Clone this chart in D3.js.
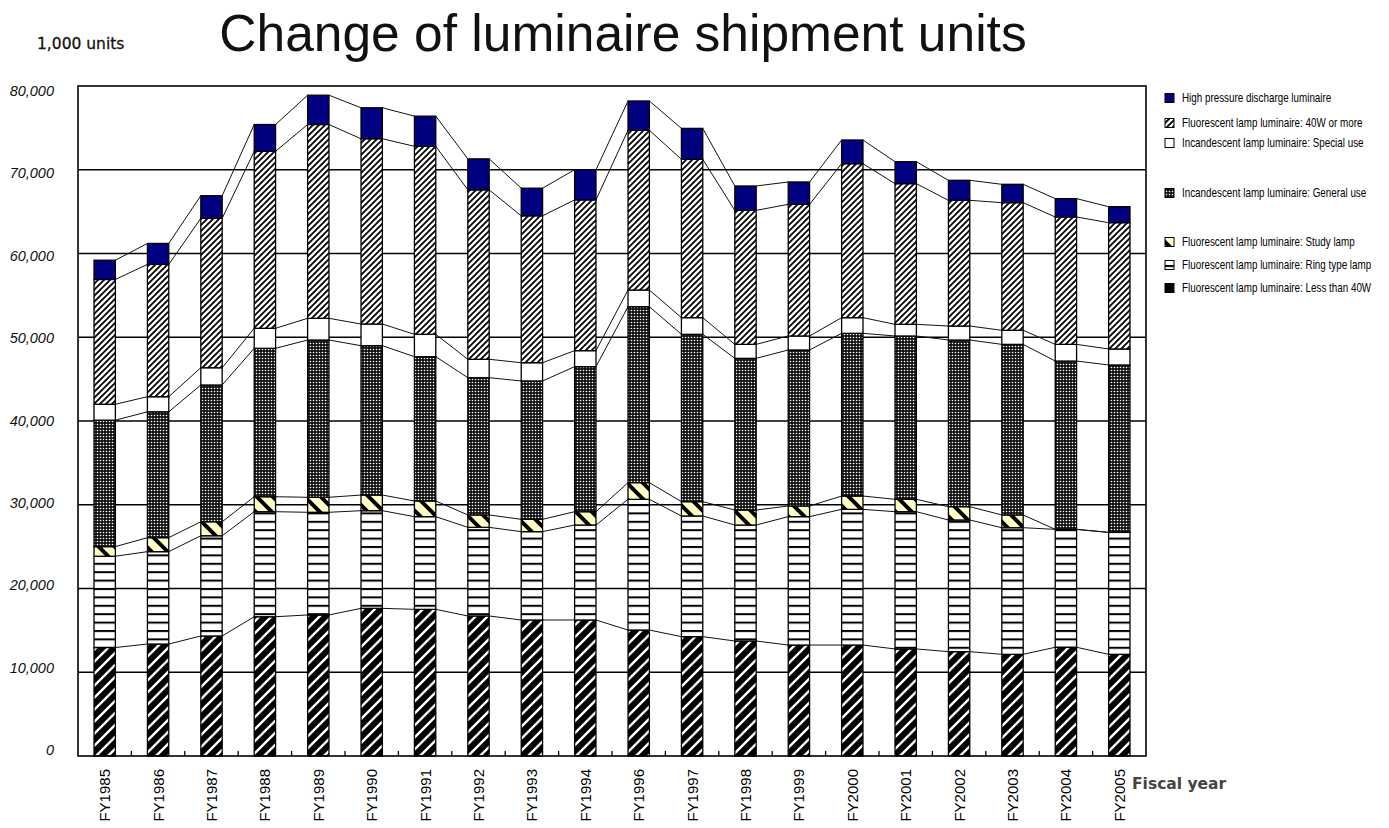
<!DOCTYPE html>
<html><head><meta charset="utf-8">
<script src="https://cdn.jsdelivr.net/npm/d3@7"></script>
<style>body{margin:0;background:#fff}svg{display:block}</style>
</head><body>
<svg id="chart" width="1389" height="828"></svg>
<script>
// ---------- data (1,000 units) ----------
const categories = ["FY1985","FY1986","FY1987","FY1988","FY1989","FY1990","FY1991","FY1992","FY1993","FY1994","FY1996","FY1997","FY1998","FY1999","FY2000","FY2001","FY2002","FY2003","FY2004","FY2005"];
const lessThan40W = [12950,13370,14330,16630,16840,17630,17510,16720,16240,16240,15040,14250,13730,13250,13250,12780,12460,12140,12980,12140];
const ringType    = [10900,11030,11970,12540,12260,11660,11070,10580,10550,11340,15610,14410,13850,15330,16200,16390,15720,15120,14080,14560];
const studyLamp   = [1150,1670,1670,1790,1790,1870,1870,1480,1470,1590,1990,1710,1790,1270,1590,1480,1590,1520,0,0];
const generalUse  = [15100,15030,16330,17720,18780,17830,17230,16390,16520,17320,21010,19980,18110,18630,19430,19500,19900,20370,20100,19990];
const specialUse  = [1900,1800,2060,2390,2590,2590,2670,2200,2180,1910,1990,1990,1670,1670,1870,1390,1670,1680,1990,1910];
const fortyWPlus  = [14900,15800,17840,21130,23140,22120,22450,20230,17540,18000,19070,18910,16000,15720,18380,16800,15010,15240,15210,15080];
const highPressure= [2300,2500,2700,3200,3500,3700,3600,3700,3300,3600,3500,3690,2910,2670,2830,2620,2390,2190,2190,1910];
const yTickValues = [0,10000,20000,30000,40000,50000,60000,70000,80000];
const seriesKeys  = ["less40","ring","study","general","special","w40","hpd"];
const seriesLabels = {
  hpd:"High pressure discharge luminaire",
  w40:"Fluorescent lamp luminaire: 40W or more",
  special:"Incandescent lamp luminaire: Special use",
  general:"Incandescent lamp luminaire: General use",
  study:"Fluorescent lamp luminaire: Study lamp",
  ring:"Fluorescent lamp luminaire: Ring type lamp",
  less40:"Fluorescent lamp luminaire: Less than 40W"
};
const legendOrder = ["hpd","w40","special","general","study","ring","less40"];

// ---------- build table ----------
const seriesData = {less40:lessThan40W, ring:ringType, study:studyLamp, general:generalUse, special:specialUse, w40:fortyWPlus, hpd:highPressure};
const table = categories.map((c,i)=>{const o={cat:c}; seriesKeys.forEach(k=>o[k]=seriesData[k][i]); return o;});
const stacked = d3.stack().keys(seriesKeys)(table);

// ---------- layout ----------
const plot = {left:78, right:1146, top:86, bottom:756};
const svg = d3.select("#chart");
const x = d3.scaleBand().domain(categories).range([plot.left, plot.right]).paddingInner(0.6).paddingOuter(0.3);
const y = d3.scaleLinear().domain([0,80000]).range([plot.bottom, plot.top]);
const yLabel = d3.scaleLinear().domain([0,80000]).range([750, 91]);
const bw = x.bandwidth();

// ---------- patterns ----------
const defs = svg.append("defs");
function pat(id,w,h,draw){const p=defs.append("pattern").attr("id",id).attr("patternUnits","userSpaceOnUse").attr("width",w).attr("height",h);draw(p,w,h);}
pat("p-less40",12,12,(p,w,h)=>{p.append("rect").attr("width",w).attr("height",h).attr("fill","#000");
  p.append("path").attr("d","M-3,3L3,-3M0,12L12,0M9,15L15,9").attr("stroke","#fff").attr("stroke-width",2.4);});
pat("p-ring",8,8.4,(p,w,h)=>{p.append("rect").attr("width",w).attr("height",h).attr("fill","#fff");
  p.append("rect").attr("y",0).attr("width",w).attr("height",2).attr("fill","#000");});
pat("p-study",16,16,(p,w,h)=>{p.append("rect").attr("width",w).attr("height",h).attr("fill","#ffffc6");
  p.append("path").attr("d","M0,0L16,16M-8,8L8,24M8,-8L24,8").attr("stroke","#000").attr("stroke-width",4);});
pat("p-general",3,3,(p,w,h)=>{p.append("rect").attr("width",w).attr("height",h).attr("fill","#111");
  p.append("circle").attr("cx",1.5).attr("cy",1.5).attr("r",0.8).attr("fill","#fff");});
pat("p-special",4,4,(p,w,h)=>{p.append("rect").attr("width",w).attr("height",h).attr("fill","#fff");});
pat("p-w40",6,6,(p,w,h)=>{p.append("rect").attr("width",w).attr("height",h).attr("fill","#fff");
  p.append("path").attr("d","M-1.5,1.5L1.5,-1.5M0,6L6,0M4.5,7.5L7.5,4.5").attr("stroke","#000").attr("stroke-width",1.8);});
pat("p-hpd",4,4,(p,w,h)=>{p.append("rect").attr("width",w).attr("height",h).attr("fill","#000080");});
pat("p-solid",4,4,(p,w,h)=>{p.append("rect").attr("width",w).attr("height",h).attr("fill","#000");});
const fillOf = k => `url(#p-${k})`;

// ---------- title ----------
svg.append("text").attr("x",623).attr("y",51).attr("text-anchor","middle")
  .style("font-family","'Liberation Sans',Arial,sans-serif").style("font-size","51.5px").attr("fill","#111")
  .text("Change of luminaire shipment units");
svg.append("text").attr("x",37).attr("y",49)
  .style("font-family","'DejaVu Sans',Verdana,sans-serif").style("font-size","15.5px").attr("fill","#111")
  .style("stroke","#111").style("stroke-width","0.3px")
  .text("1,000 units");

// ---------- gridlines ----------
svg.append("g").selectAll("line").data(yTickValues.filter(v=>v>0&&v<80000)).join("line")
  .attr("x1",plot.left).attr("x2",plot.right).attr("y1",d=>y(d)).attr("y2",d=>y(d))
  .attr("stroke","#000").attr("stroke-width",1.4);

// ---------- y labels ----------
svg.append("g").selectAll("text").data(yTickValues).join("text")
  .attr("x",54).attr("y",d=>yLabel(d)).attr("dy","0.35em").attr("text-anchor","end")
  .style("font-family","'Liberation Sans',Arial,sans-serif").style("font-size","14.5px").style("font-style","italic").attr("fill","#111")
  .text(d=>d3.format(",")(d));

// ---------- bars ----------
const gBars = svg.append("g");
stacked.forEach(layer=>{
  gBars.append("g").selectAll("rect").data(layer).join("rect")
    .attr("x",d=>x(d.data.cat)).attr("width",bw)
    .attr("y",d=>y(d[1])).attr("height",d=>y(d[0])-y(d[1]))
    .attr("fill",fillOf(layer.key)).attr("stroke","#000").attr("stroke-width",1.3);
});

// ---------- series lines ----------
const gLines = svg.append("g");
stacked.forEach(layer=>{
  const segs = d3.pairs(layer);
  gLines.append("g").selectAll("line").data(segs).join("line")
    .attr("x1",d=>x(d[0].data.cat)+bw).attr("y1",d=>y(d[0][1]))
    .attr("x2",d=>x(d[1].data.cat)).attr("y2",d=>y(d[1][1]))
    .attr("stroke","#111").attr("stroke-width",1);
});

// ---------- frame ----------
svg.append("rect").attr("x",plot.left).attr("y",plot.top).attr("width",plot.right-plot.left).attr("height",plot.bottom-plot.top)
  .attr("fill","none").attr("stroke","#000").attr("stroke-width",1.6);

// bottom ticks at band boundaries
const bounds = d3.range(1,categories.length).map(i=>plot.left+i*x.step());
svg.append("g").selectAll("line").data(bounds).join("line")
  .attr("x1",d=>d).attr("x2",d=>d).attr("y1",plot.bottom).attr("y2",plot.bottom-5)
  .attr("stroke","#000").attr("stroke-width",1.3);

// ---------- x labels ----------
svg.append("g").selectAll("text").data(categories).join("text")
  .attr("transform",d=>`translate(${x(d)+bw/2},769) rotate(-90)`)
  .attr("text-anchor","end").attr("dy","0.36em")
  .style("font-family","'Liberation Sans',Arial,sans-serif").style("font-size","15px").attr("fill","#000")
  .text(d=>d);
svg.append("text").attr("x",1132).attr("y",789)
  .style("font-family","'DejaVu Sans',Verdana,sans-serif").style("font-size","15.5px").style("font-weight","bold").attr("fill","#444")
  .text("Fiscal year");

// ---------- legend ----------
const legendY = [98,123,143,193,242,265,288];
const legendFill = k => k==="less40" ? "url(#p-solid)" : fillOf(k);
const lg = svg.append("g").selectAll("g").data(legendOrder).join("g")
  .attr("transform",(d,i)=>`translate(1165,${legendY[i]})`);
lg.append("rect").attr("x",0).attr("y",-4.5).attr("width",9).attr("height",9)
  .attr("fill",d=>legendFill(d)).attr("stroke","#000").attr("stroke-width",1);
lg.append("text").attr("transform","translate(17,0) scale(0.82,1)").attr("dy","0.35em")
  .style("font-family","'Liberation Sans',Arial,sans-serif").style("font-size","12px").attr("fill","#000")
  .text(d=>seriesLabels[d]);
</script>
</body></html>
